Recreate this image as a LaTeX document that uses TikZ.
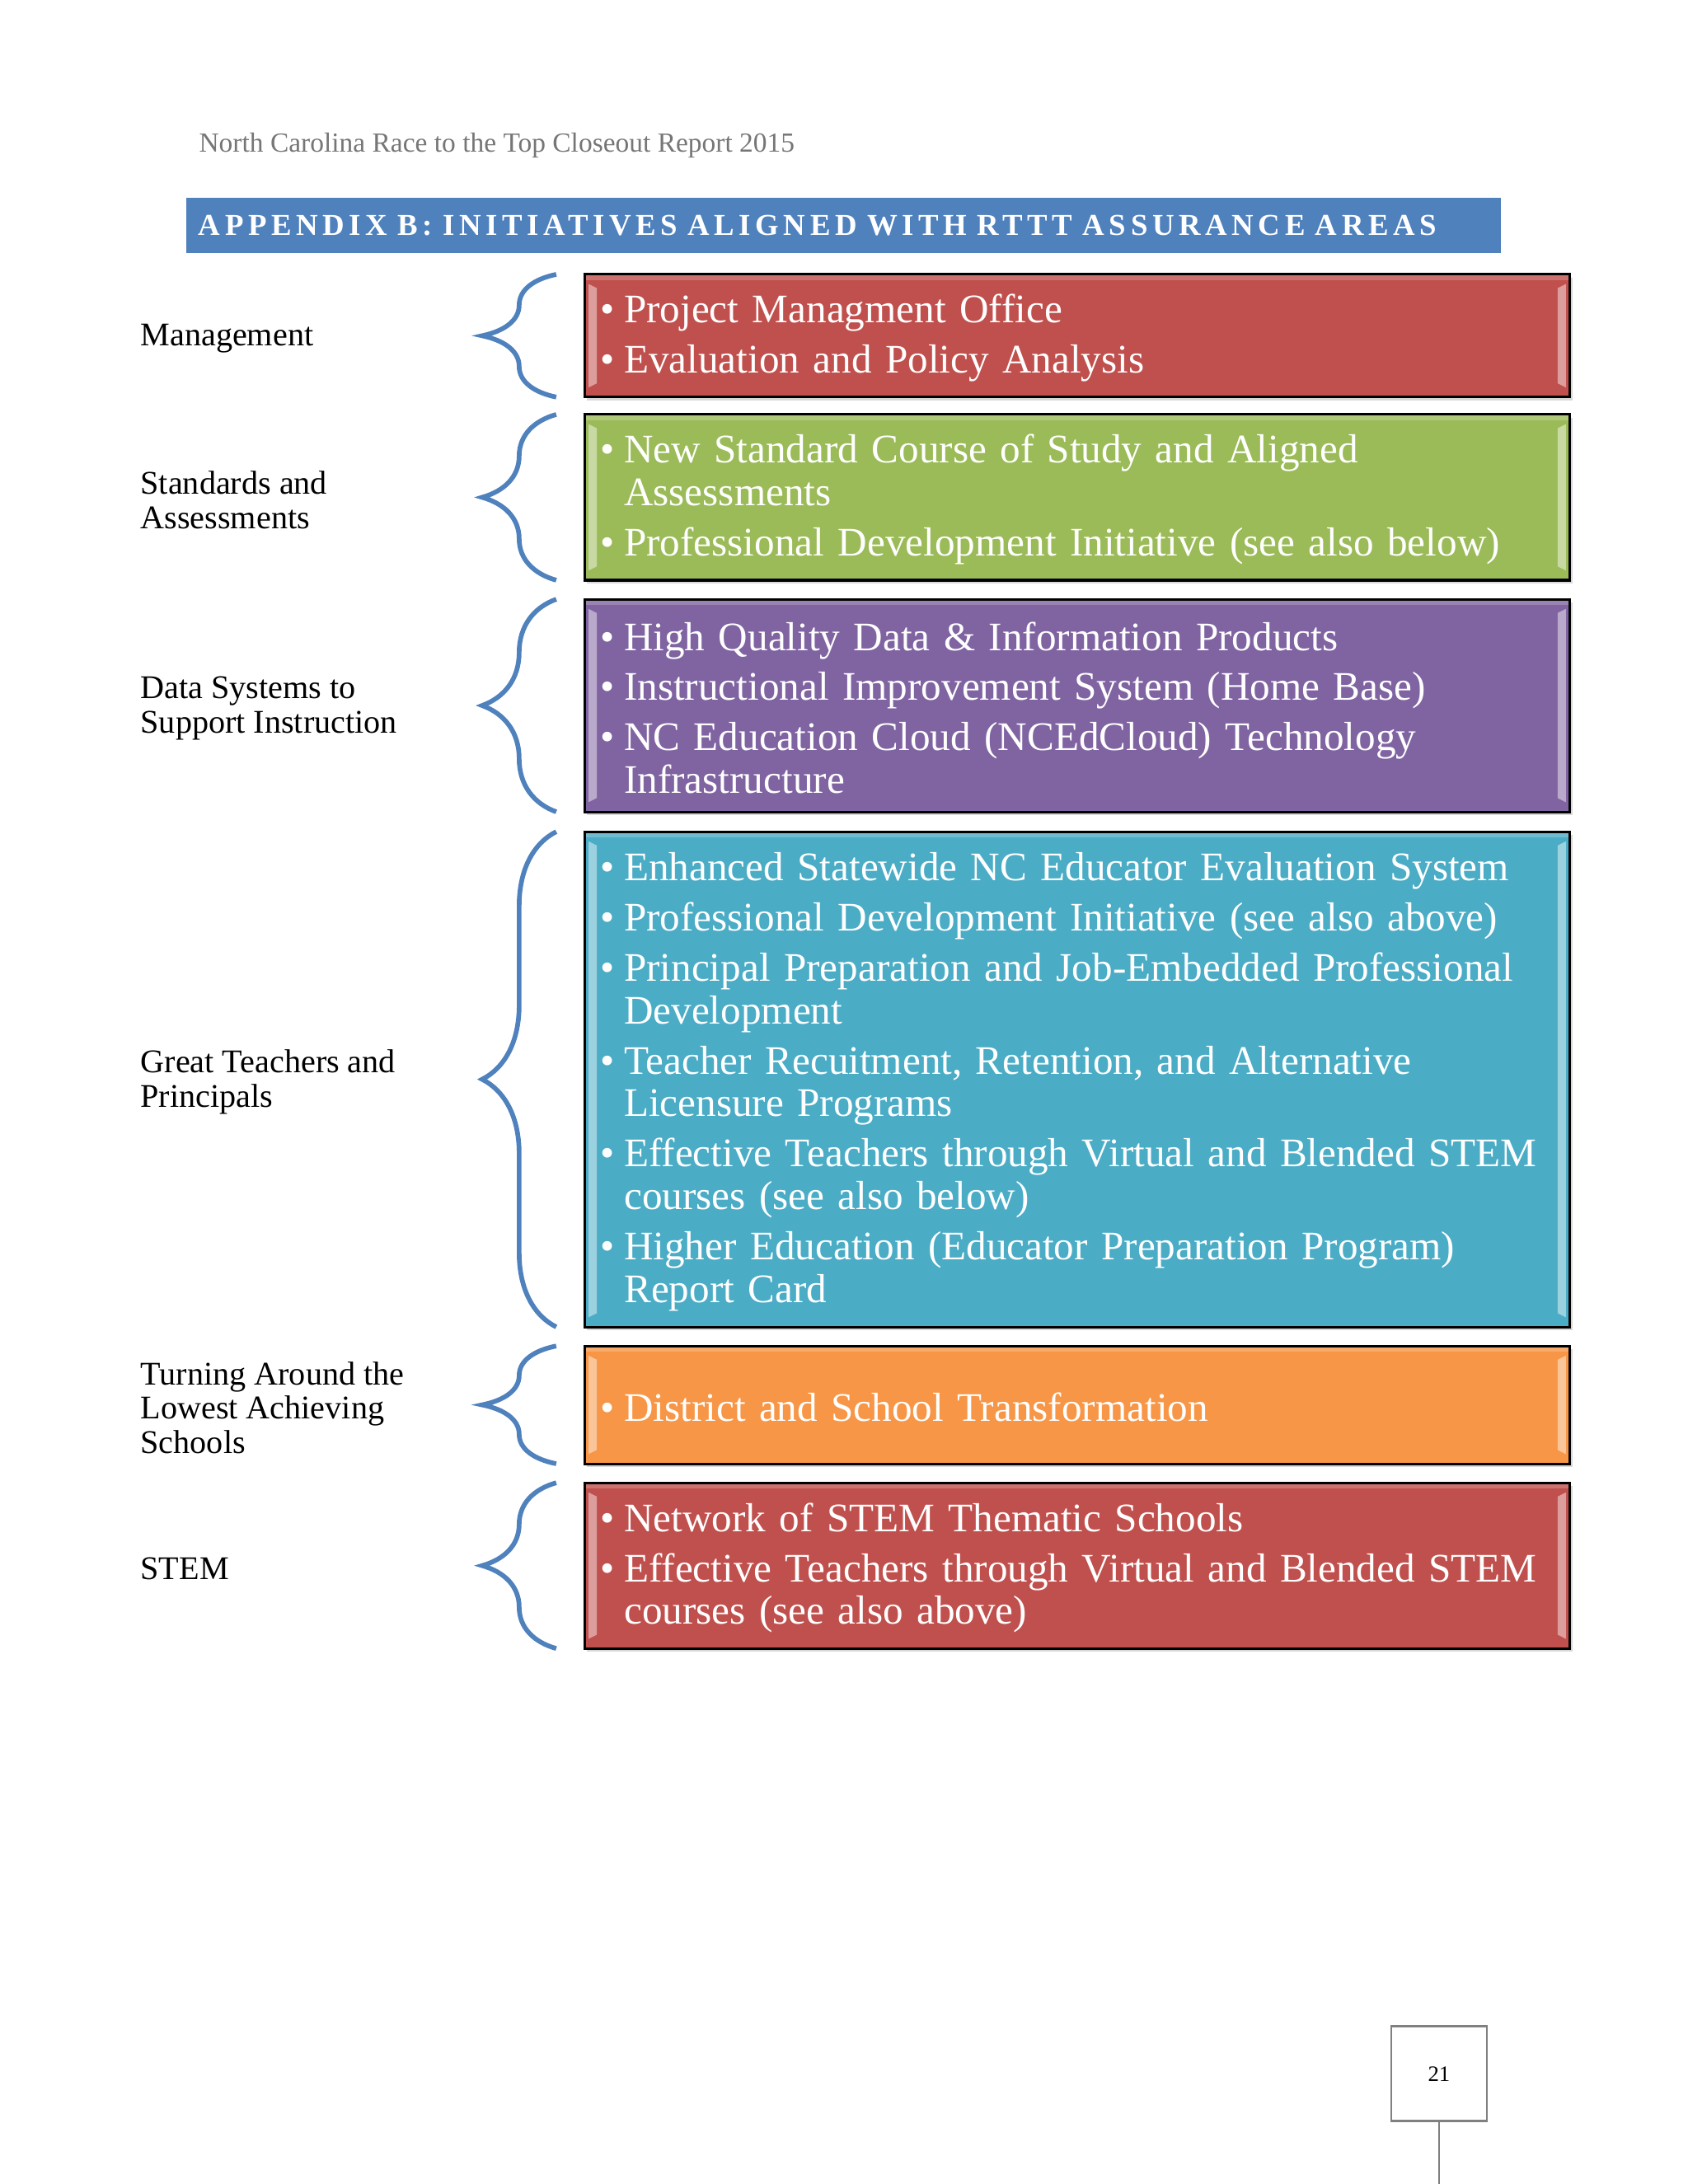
\documentclass[tikz,border=0pt]{standalone}
\usepackage{fontspec}
\setmainfont{Liberation Serif}
\usetikzlibrary{positioning, calc, decorations.pathreplacing, shadows}
\definecolor{cTitle}{RGB}{79,129,189}
\definecolor{cRed}{RGB}{192,80,77}
\definecolor{cGreen}{RGB}{155,187,89}
\definecolor{cPurple}{RGB}{128,100,162}
\definecolor{cAqua}{RGB}{75,172,198}
\definecolor{cOrange}{RGB}{247,150,70}
\definecolor{cHead}{RGB}{118,118,118}
\newcommand{\bulx}{\hspace*{5.7pt}\makebox[8.7pt][l]{\textbullet}}
\newcommand{\indx}{\hspace*{14.4pt}}

\begin{document}
\begin{tikzpicture}[
  node distance=6.9pt,
  area/.style={draw=black, line width=0.9pt, text=white, align=left,
               text width=357.4pt, inner xsep=0pt, inner ysep=0pt, outer sep=0pt,
               font=\fontsize{14.7}{15.5}\selectfont,
               execute at begin node={\rule{0pt}{12pt}},
               drop shadow={opacity=0.3, shadow xshift=0.8pt, shadow yshift=-1.2pt},
               path picture={
                 \fill[white, opacity=0.2]
                   (path picture bounding box.north west) rectangle
                   ($(path picture bounding box.north east)+(0,-2pt)$);
                 \fill[white, opacity=0.45]
                   ($(path picture bounding box.north west)+(1.5pt,-3.5pt)$) --
                   ($(path picture bounding box.north west)+(4.5pt,-5pt)$) --
                   ($(path picture bounding box.south west)+(4.5pt,5pt)$) --
                   ($(path picture bounding box.south west)+(1.5pt,3.5pt)$) -- cycle;
                 \fill[white, opacity=0.45]
                   ($(path picture bounding box.north east)+(-1.5pt,-3.5pt)$) --
                   ($(path picture bounding box.north east)+(-4.5pt,-5pt)$) --
                   ($(path picture bounding box.south east)+(-4.5pt,5pt)$) --
                   ($(path picture bounding box.south east)+(-1.5pt,3.5pt)$) -- cycle;
               }},
  lbl/.style={anchor=west, inner sep=0pt, align=left, yshift=-1pt,
              font=\fontsize{12}{12.4}\selectfont},
  brc/.style={draw=cTitle, line width=1.7pt, decorate,
              decoration={brace, amplitude=26.9pt}}
]

\path[use as bounding box, fill=white] (0,0) rectangle (612pt,-792pt);
\coordinate (labx) at (50.8pt,0);
\coordinate (brx) at (201.7pt,0);
\coordinate (pgbot) at (0,-792pt);

%% header and title
\node[anchor=base west, inner sep=0pt, text=cHead,
      font=\fontsize{10}{12}\selectfont] (hdr) at (72pt,-55pt)
  {North Carolina Race to the Top Closeout Report 2015};

\node[fill=cTitle, anchor=north west, minimum height=20pt, text width=467.7pt,
      inner xsep=4.5pt, inner ysep=0pt, outer sep=0pt, text=white, align=left,
      font=\fontsize{11}{13}\selectfont\bfseries\addfontfeatures{LetterSpace=15.3}]
  (title) at (67.5pt,-71.7pt)
  {APPENDIX B: INITIATIVES ALIGNED WITH RTTT ASSURANCE AREAS};

%% initiative boxes
\node[area, fill=cRed, minimum height=44.5pt, anchor=north west] (mgmt)
  at (211.9pt,-99.5pt) {
  \bulx Project Managment Office\\[2.7pt]
  \bulx Evaluation and Policy Analysis
};

\node[area, fill=cGreen, minimum height=60.1pt, below=6.3pt of mgmt] (stds) {
  \bulx New Standard Course of Study and Aligned\\
  \indx Assessments\\[2.7pt]
  \bulx Professional Development Initiative (see also below)
};

\node[area, fill=cPurple, minimum height=77.1pt, below=of stds] (data) {
  \bulx High Quality Data \& Information Products\\[2.7pt]
  \bulx Instructional Improvement System (Home Base)\\[2.7pt]
  \bulx NC Education Cloud (NCEdCloud) Technology\\
  \indx Infrastructure
};

\node[area, fill=cAqua, minimum height=179.6pt, below=7.2pt of data] (tchr) {
  \bulx Enhanced Statewide NC Educator Evaluation System\\[2.7pt]
  \bulx Professional Development Initiative (see also above)\\[2.7pt]
  \bulx Principal Preparation and Job-Embedded Professional\\
  \indx Development\\[2.7pt]
  \bulx Teacher Recuitment, Retention, and Alternative\\
  \indx Licensure Programs\\[2.7pt]
  \bulx Effective Teachers through Virtual and Blended STEM\\
  \indx courses (see also below)\\[2.7pt]
  \bulx Higher Education (Educator Preparation Program)\\
  \indx Report Card
};

\node[area, fill=cOrange, minimum height=42.7pt, below=of tchr] (turn) {
  \bulx District and School Transformation
};

\node[area, fill=cRed, minimum height=60.1pt, below=of turn] (stem) {
  \bulx Network of STEM Thematic Schools\\[2.7pt]
  \bulx Effective Teachers through Virtual and Blended STEM\\
  \indx courses (see also above)
};

%% braces
\draw[brc] (mgmt.south west -| brx) -- (mgmt.north west -| brx);
\draw[brc] (stds.south west -| brx) -- (stds.north west -| brx);
\draw[brc] (data.south west -| brx) -- (data.north west -| brx);
\draw[brc] (tchr.south west -| brx) -- (tchr.north west -| brx);
\draw[brc] (turn.south west -| brx) -- (turn.north west -| brx);
\draw[brc] (stem.south west -| brx) -- (stem.north west -| brx);

%% assurance areas
\node[lbl] (l_mgmt) at (mgmt.west -| labx) {Management};
\node[lbl] (l_stds) at (stds.west -| labx) {Standards and\\Assessments};
\node[lbl] (l_data) at (data.west -| labx) {Data Systems to\\Support Instruction};
\node[lbl] (l_tchr) at (tchr.west -| labx) {Great Teachers and\\Principals};
\node[lbl] (l_turn) at (turn.west -| labx) {Turning Around the\\Lowest Achieving\\Schools};
\node[lbl] (l_stem) at (stem.west -| labx) {STEM};

%% page number
\node[draw=gray, line width=0.75pt, minimum width=34.7pt, minimum height=34.4pt,
      inner sep=0pt, font=\fontsize{8}{10}\selectfont] (pgno) at (521.8pt,-752pt) {21};
\draw[gray, line width=0.75pt] (pgno.south) -- (pgno.south |- pgbot);

\end{tikzpicture}
\end{document}
